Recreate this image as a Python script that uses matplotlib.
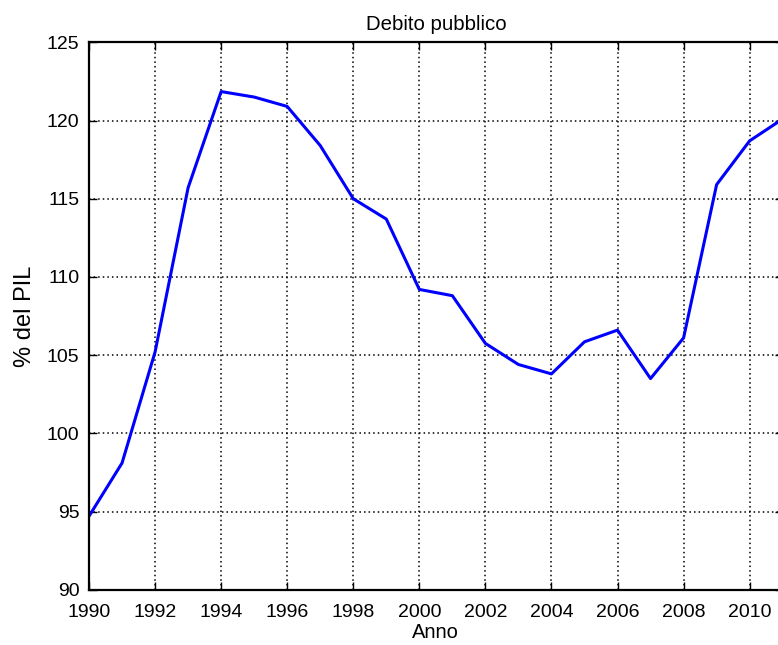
import matplotlib
matplotlib.use('Agg')
import matplotlib.pyplot as plt

plt.rcParams['font.family'] = ['Liberation Sans', 'DejaVu Sans']

# ---------------- Dati -----------------
anni = [1990, 1991, 1992, 1993, 1994, 1995, 1996, 1997, 1998, 1999, 2000,
        2001, 2002, 2003, 2004, 2005, 2006, 2007, 2008, 2009, 2010, 2011]
debito = [94.7, 98.1, 105.2, 115.7, 121.85, 121.5, 120.9, 118.4, 115.0, 113.7, 109.2,
          108.8, 105.75, 104.4, 103.8, 105.85, 106.6, 103.5, 106.1, 115.9, 118.7, 120.1]
xticks = list(range(1990, 2011, 2))
yticks = list(range(90, 126, 5))

# ---------------- Grafico -----------------
fig = plt.figure(figsize=(7.78, 6.45), dpi=100)
ax = fig.add_axes([0.1144, 0.0857, 0.8916, 0.8487])
ax.plot(anni, debito, color='#0000ff', linewidth=2.2)

ax.set_xlim(1990, 2011)
ax.set_ylim(90, 125)
ax.set_xticks(xticks)
ax.set_yticks(yticks)
ax.grid(True, color='black', linestyle=(0, (1, 2)), linewidth=1.1)
ax.tick_params(direction='in', length=6, width=1, labelsize=14, top=True, right=True)
ax.tick_params(axis='x', pad=10)
ax.tick_params(axis='y', pad=7)
for s in ax.spines.values():
    s.set_linewidth(1.6)

ax.set_title('Debito pubblico', fontsize=14.7, pad=9)
ax.set_xlabel('Anno', fontsize=14.5, labelpad=2)
ax.set_ylabel('% del PIL', fontsize=17, labelpad=8)

fig.savefig('out.png', dpi=100)
